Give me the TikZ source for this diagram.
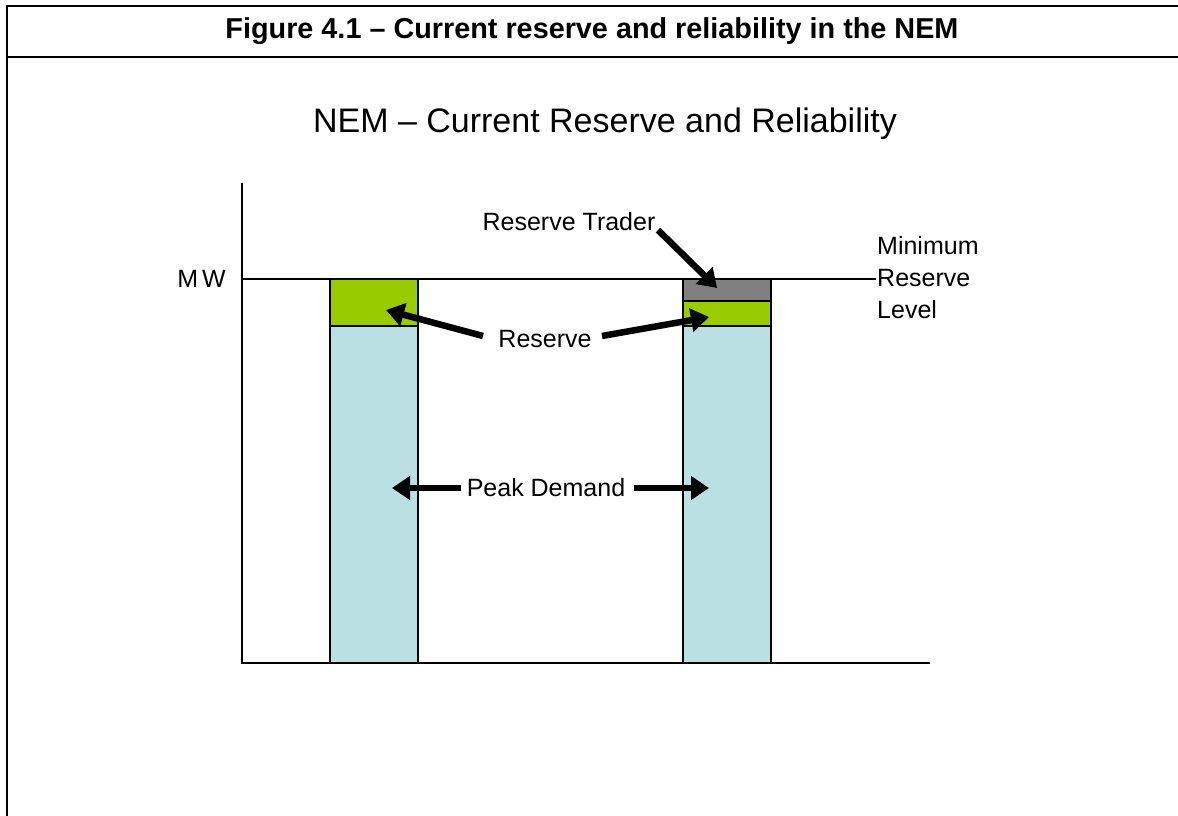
\documentclass[tikz,border=0pt]{standalone}
\usepackage{fontspec}
\setmainfont{Liberation Sans}
\usetikzlibrary{arrows.meta}
\definecolor{resgreen}{HTML}{99CC00}
\definecolor{tradergrey}{HTML}{808080}
\definecolor{demandblue}{HTML}{BBE0E3}
\tikzset{
  frameline/.style={line width=2pt},
  axisline/.style={line width=1.3pt},
  barseg/.style={draw=black, line width=1.2pt},
  lbl/.style={font=\fontsize{25}{28}\selectfont, inner sep=0pt},
  fatarrow/.style={line width=6.5pt, -{Triangle[length=18pt,width=23pt]}, shorten >=0pt},
}
\begin{document}
\begin{tikzpicture}[x=1pt,y=-1pt]
\useasboundingbox (0,0) rectangle (1178,816);
% frame
\draw[frameline] (7,816) -- (7,6) -- (1178,6);
\draw[frameline] (7,57) -- (1178,57);
\node[anchor=base, inner sep=0pt] (hdr) at (592,39) {\fontsize{28.8}{32}\selectfont\bfseries Figure 4.1 – Current reserve and reliability in the NEM};
\node (ttl) at (605,124) {\fontsize{34}{38}\selectfont NEM – Current Reserve and Reliability};
% bars
\fill[demandblue] (330,326) rectangle (418,663);
\fill[resgreen] (330,279) rectangle (418,326);
\draw[barseg] (330,663) -- (330,279) -- (418,279) -- (418,663);
\draw[barseg] (330,326) -- (418,326);
\fill[demandblue] (683,326) rectangle (771,663);
\fill[resgreen] (683,301) rectangle (771,326);
\fill[tradergrey] (683,279) rectangle (771,301);
\draw[barseg] (683,663) -- (683,279) -- (771,279) -- (771,663);
\draw[barseg] (683,301) -- (771,301);
\draw[barseg] (683,326) -- (771,326);
% axes
\coordinate (ytop) at (242,183);
\coordinate (orig) at (242,663);
\coordinate (xend) at (930,663);
\coordinate (mwl) at (242,279);
\coordinate (mwr) at (876,279);
\draw[axisline] (ytop) -- (orig) -- (xend);
\draw[line width=1.1pt] (mwl) -- (mwr);
\node[lbl, anchor=east] (mw) at (226,279) {M\kern4pt W};
\node[lbl, anchor=west, align=left] (mrl) at (877,278) {Minimum\\[4pt]Reserve\\[4pt]Level};
% labels
\node[lbl] (trader) at (569,222) {Reserve Trader};
\node[lbl] (reserve) at (545,339) {Reserve};
\node[lbl] (peak) at (546,488) {Peak Demand};
\coordinate (tradertip) at (717,288);
\coordinate (resltip) at (386,310);
\coordinate (resrtip) at (709,317);
\coordinate (peakltip) at (392,488);
\coordinate (peakrtip) at (709,488);
\draw[fatarrow] (658,230) -- (tradertip);
\draw[fatarrow] (483,336) -- (resltip);
\draw[fatarrow] (602,336) -- (resrtip);
\draw[fatarrow] (461,488) -- (peakltip);
\draw[fatarrow] (634,488) -- (peakrtip);
\end{tikzpicture}
\end{document}
